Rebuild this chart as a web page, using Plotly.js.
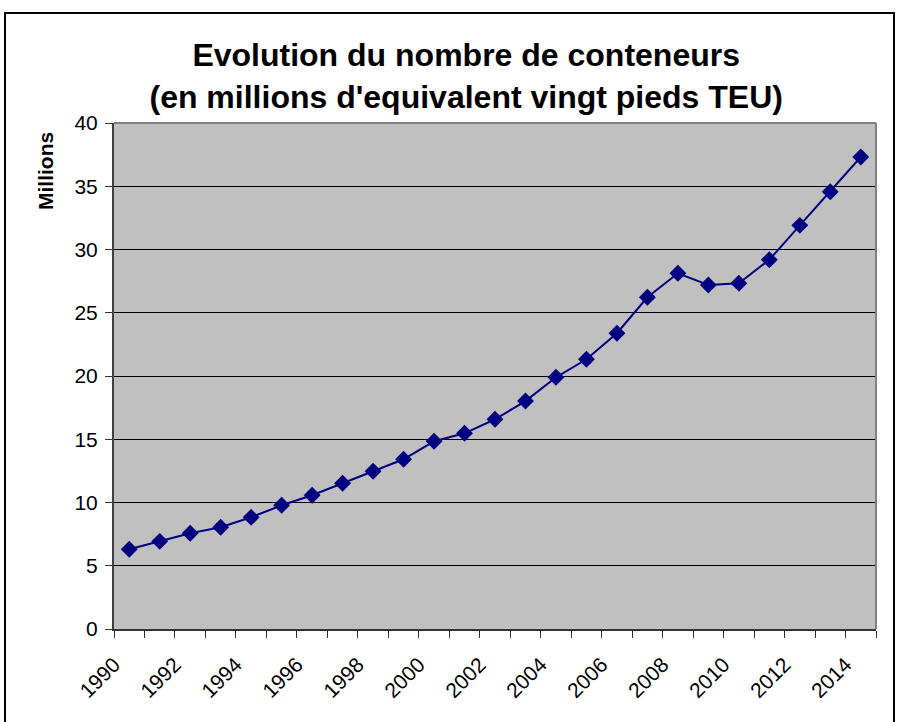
<!DOCTYPE html>
<html>
<head>
<meta charset="utf-8">
<script src="https://cdn.plot.ly/plotly-3.0.1.min.js"></script>
<style>
  html, body { margin: 0; padding: 0; background: #ffffff; }
  #chart { width: 907px; height: 722px; }
</style>
</head>
<body>
<div id="chart"></div>
<script>
// données : millions de TEU par année
const years = [1990, 1991, 1992, 1993, 1994, 1995, 1996, 1997, 1998, 1999, 2000, 2001, 2002,
    2003, 2004, 2005, 2006, 2007, 2008, 2009, 2010, 2011, 2012, 2013, 2014];
const teu = [6.3, 6.93, 7.57, 8.04, 8.83, 9.78, 10.57, 11.52, 12.47, 13.42, 14.84, 15.47, 16.58,
    18.02, 19.9, 21.32, 23.38, 26.22, 28.12, 27.19, 27.33, 29.19, 31.91, 34.57, 37.31];
const labelYears = [1990, 1992, 1994, 1996, 1998, 2000, 2002, 2004, 2006, 2008, 2010, 2012, 2014];
const yTicks = [0, 5, 10, 15, 20, 25, 30, 35, 40];

const font = 'Liberation Sans, Arial, sans-serif';
const navy = '#000080';

const data = [{
    x: years,
    y: teu,
    type: 'scatter',
    mode: 'lines+markers',
    line: { color: navy, width: 2 },
    marker: { symbol: 'diamond', size: 13, color: navy },
    hoverinfo: 'x+y'
}];

// Excel place les libellés inclinés sur le bord gauche de la catégorie
const tickPos = labelYears.map(y => y - 0.5);

const layout = {
    width: 907,
    height: 722,
    paper_bgcolor: '#ffffff',
    plot_bgcolor: '#c0c0c0',
    margin: { l: 114, r: 31, t: 123, b: 93 },
    showlegend: false,
    title: {
        text: 'Evolution du nombre de conteneurs<br>(en millions d\'equivalent vingt pieds TEU)',
        font: { family: font, size: 32, color: '#000000', weight: 'bold' },
        x: 0.514,
        xanchor: 'center',
        xref: 'container',
        y: 0.908,
        yanchor: 'top',
        yref: 'container'
    },
    xaxis: {
        type: 'linear',
        range: [1989.5, 2014.5],
        tickvals: tickPos,
        ticktext: labelYears.map(String),
        tickangle: -45,
        ticks: 'outside',
        ticklen: 7,
        tickwidth: 1,
        tickcolor: '#333333',
        ticklabelstandoff: 6,
        minor: { tick0: 1989.5, dtick: 1, ticks: 'outside', ticklen: 7, tickwidth: 1, tickcolor: '#333333', showgrid: false },
        showgrid: false,
        zeroline: false,
        showline: true,
        linecolor: '#333333',
        linewidth: 2,
        tickfont: { family: font, size: 21, color: '#000000' },
        fixedrange: true
    },
    yaxis: {
        range: [0, 40],
        tickvals: yTicks,
        ticks: 'outside',
        ticklen: 7,
        tickwidth: 1,
        tickcolor: '#333333',
        ticklabelstandoff: 3,
        showgrid: true,
        gridcolor: '#000000',
        gridwidth: 1,
        zeroline: false,
        showline: true,
        linecolor: '#404040',
        linewidth: 2,
        tickfont: { family: font, size: 21, color: '#000000' },
        fixedrange: true
    },
    annotations: [{
        text: 'Millions',
        textangle: -90,
        xref: 'paper', yref: 'paper',
        x: (45 - 114) / 762, y: (629 - 171) / 506,
        xanchor: 'center', yanchor: 'middle',
        showarrow: false,
        font: { family: font, size: 21, color: '#000000', weight: 'bold' }
    }],
    shapes: [
        // bordure grise de la zone de tracé
        { type: 'line', xref: 'paper', yref: 'paper', x0: 0, x1: 1, y0: 1, y1: 1, line: { color: '#808080', width: 2 } },
        { type: 'line', xref: 'paper', yref: 'paper', x0: 1, x1: 1, y0: 0, y1: 1, line: { color: '#808080', width: 2 } },
        // cadre du graphique
        {
            type: 'rect', xref: 'paper', yref: 'paper', layer: 'above',
            x0: (5 - 114) / 762, x1: (894 - 114) / 762,
            y0: (629 - 740) / 506, y1: (629 - 13) / 506,
            line: { color: '#000000', width: 2 }
        }
    ]
};

const config = { displayModeBar: false, staticPlot: true };

Plotly.newPlot('chart', data, layout, config);
</script>
</body>
</html>
